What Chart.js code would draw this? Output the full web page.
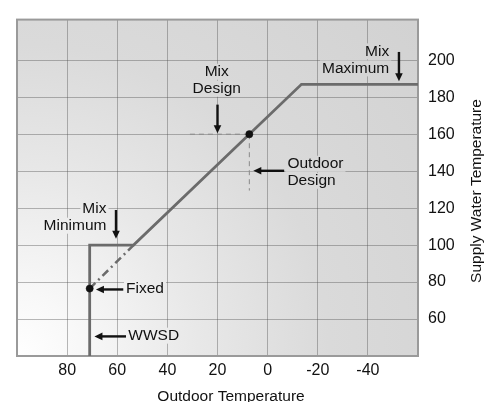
<!DOCTYPE html>
<html>
<head>
<meta charset="utf-8">
<script src="https://cdn.jsdelivr.net/npm/chart.js@4.4.1/dist/chart.umd.min.js"></script>
<style>
  html, body { margin: 0; padding: 0; background: #fff; }
  canvas { display: block; }
</style>
</head>
<body>
<canvas id="chart" width="493" height="402"></canvas>
<script>
// axes
const xTicks = [80, 60, 40, 20, 0, -20, -40];
const yTicks = [60, 80, 100, 120, 140, 160, 180, 200];
const xRange = [-60, 100];
const yRange = [40, 222];

// reset curve (outdoor temp -> supply water temp)
const curveX = [71, 71, 53.5, -13.5, -60];
const curveY = [40, 100, 100, 187, 187];

// dash-dot part below mix minimum
const fixedLineX = [71, 53.5];
const fixedLineY = [76.5, 100];

// design guides
const designHX = [31, 7.3];
const designHY = [160, 160];
const designVX = [7.3, 7.3];
const designVY = [160, 129.5];

// dots: fixed point and design point
const dotX = [71, 7.3];
const dotY = [76.5, 160];

const FONT = "'Liberation Sans', Arial, Helvetica, sans-serif";
const TEXT = '#111';

// labels with arrows (data units)
const notes = [
  { lines: ['Mix', 'Minimum'], x: 64.3, y: 119.7, align: 'right', arrow: [60.5, 119, 60.5, 103.4] },
  { lines: ['Mix', 'Design'], x: 20.3, y: 193.8, align: 'center', arrow: [20, 176, 20, 160.5] },
  { lines: ['Mix', 'Maximum'], x: -48.5, y: 204.8, align: 'right', arrow: [-52.4, 204.5, -52.4, 188.6] },
  { lines: ['Outdoor', 'Design'], x: -7.9, y: 144, align: 'left', arrow: [-6.6, 140.2, 5.7, 140.2] },
  { lines: ['Fixed'], x: 56.5, y: 76.3, align: 'left', arrow: [57.6, 76, 68.5, 76] },
  { lines: ['WWSD'], x: 55.6, y: 51, align: 'left', arrow: [56.5, 50.6, 69.1, 50.6] }
];

function pts(xs, ys) {
  return xs.map((x, i) => ({ x: x, y: ys[i] }));
}

let bgFill = null;

const chartBg = {
  id: 'chartBg',
  beforeDraw(chart) {
    const { ctx, chartArea: a } = chart;
    const g = ctx.createRadialGradient(a.left, a.bottom, 0, a.left, a.bottom, 520);
    g.addColorStop(0, '#ffffff');
    g.addColorStop(0.12, '#f8f8f8');
    g.addColorStop(0.35, '#e8e8e8');
    g.addColorStop(0.6, '#dadada');
    g.addColorStop(1, '#d2d2d2');
    bgFill = g;
    ctx.save();
    ctx.fillStyle = g;
    ctx.fillRect(a.left, a.top, a.right - a.left, a.bottom - a.top);
    ctx.restore();
  },
  beforeDatasetsDraw(chart) {
    const { ctx, chartArea: a } = chart;
    ctx.save();
    ctx.strokeStyle = '#9a9a9a';
    ctx.lineWidth = 2;
    ctx.strokeRect(a.left, a.top, a.right - a.left, a.bottom - a.top);
    ctx.restore();
  }
};

function arrow(ctx, x1, y1, x2, y2) {
  const ang = Math.atan2(y2 - y1, x2 - x1);
  const len = 8, half = 3.8;
  const bx = x2 - Math.cos(ang) * len, by = y2 - Math.sin(ang) * len;
  ctx.beginPath();
  ctx.moveTo(x1, y1);
  ctx.lineTo(bx + Math.cos(ang), by + Math.sin(ang));
  ctx.stroke();
  ctx.beginPath();
  ctx.moveTo(x2, y2);
  ctx.lineTo(bx - Math.sin(ang) * half, by + Math.cos(ang) * half);
  ctx.lineTo(bx + Math.sin(ang) * half, by - Math.cos(ang) * half);
  ctx.closePath();
  ctx.fill();
}

const notesPlugin = {
  id: 'notes',
  afterDraw(chart) {
    const { ctx } = chart;
    const xs = chart.scales.x, ys = chart.scales.y;
    ctx.save();
    ctx.font = '15.5px ' + FONT;
    ctx.textBaseline = 'middle';
    notes.forEach(n => {
      const px = xs.getPixelForValue(n.x);
      const py = ys.getPixelForValue(n.y);
      ctx.textAlign = n.align;
      n.lines.forEach((t, i) => {
        const w = ctx.measureText(t).width;
        let l = px;
        if (n.align === 'right') l = px - w;
        else if (n.align === 'center') l = px - w / 2;
        const ty = py + i * 17;
        // knock out grid behind text
        ctx.fillStyle = bgFill;
        ctx.fillRect(l - 2, ty - 8, w + 4, 16);
        ctx.fillStyle = TEXT;
        ctx.fillText(t, px, ty);
      });
      const [ax1, ay1, ax2, ay2] = n.arrow;
      ctx.strokeStyle = '#111';
      ctx.fillStyle = '#111';
      ctx.lineWidth = 2.4;
      arrow(ctx, xs.getPixelForValue(ax1), ys.getPixelForValue(ay1),
                 xs.getPixelForValue(ax2), ys.getPixelForValue(ay2));
    });

    // axis titles
    ctx.fillStyle = TEXT;
    ctx.font = '15.5px ' + FONT;
    ctx.textAlign = 'center';
    ctx.textBaseline = 'middle';
    ctx.fillText('Outdoor Temperature', 231, 397);
    ctx.translate(477, 191);
    ctx.rotate(-Math.PI / 2);
    ctx.fillText('Supply Water Temperature', 0, 0);
    ctx.restore();
  }
};

const lineGray = '#6b6b6b';

new Chart(document.getElementById('chart'), {
  type: 'line',
  data: {
    datasets: [
      {
        data: pts(dotX, dotY),
        showLine: false,
        pointRadius: 3.6,
        pointBackgroundColor: '#111',
        pointBorderColor: '#111',
        pointBorderWidth: 0.5
      },
      {
        data: pts(curveX, curveY),
        borderColor: lineGray, borderWidth: 2.8,
        borderJoinStyle: 'miter',
        pointRadius: 0
      },
      {
        data: pts(fixedLineX, fixedLineY),
        borderColor: lineGray, borderWidth: 2.5, borderDash: [8, 4, 2, 4],
        pointRadius: 0
      },
      {
        data: pts(designHX, designHY),
        borderColor: '#8a8a8a', borderWidth: 1, borderDash: [5, 4],
        pointRadius: 0
      },
      {
        data: pts(designVX, designVY),
        borderColor: '#8a8a8a', borderWidth: 1, borderDash: [5, 4],
        pointRadius: 0
      }
    ]
  },
  options: {
    responsive: false,
    animation: false,
    layout: { padding: { left: 17, top: 9, right: 0, bottom: 0 } },
    plugins: {
      legend: { display: false },
      tooltip: { enabled: false }
    },
    scales: {
      x: {
        type: 'linear',
        reverse: true,
        min: xRange[0],
        max: xRange[1],
        afterBuildTicks: s => { s.ticks = xTicks.map(v => ({ value: v })); },
        afterFit: s => { s.height = 46; },
        border: { display: false },
        grid: { color: 'rgba(80,80,80,0.4)', lineWidth: 1, drawTicks: false },
        ticks: { padding: 5, color: TEXT, font: { family: FONT, size: 16 }, maxRotation: 0 }
      },
      y: {
        type: 'linear',
        position: 'right',
        min: yRange[0],
        max: yRange[1],
        afterBuildTicks: s => { s.ticks = yTicks.map(v => ({ value: v })); },
        afterFit: s => { s.width = 75; },
        border: { display: false },
        grid: { color: 'rgba(80,80,80,0.4)', lineWidth: 1, drawTicks: false },
        ticks: { padding: 10, color: TEXT, font: { family: FONT, size: 16 } }
      }
    }
  },
  plugins: [chartBg, notesPlugin]
});
</script>
</body>
</html>
